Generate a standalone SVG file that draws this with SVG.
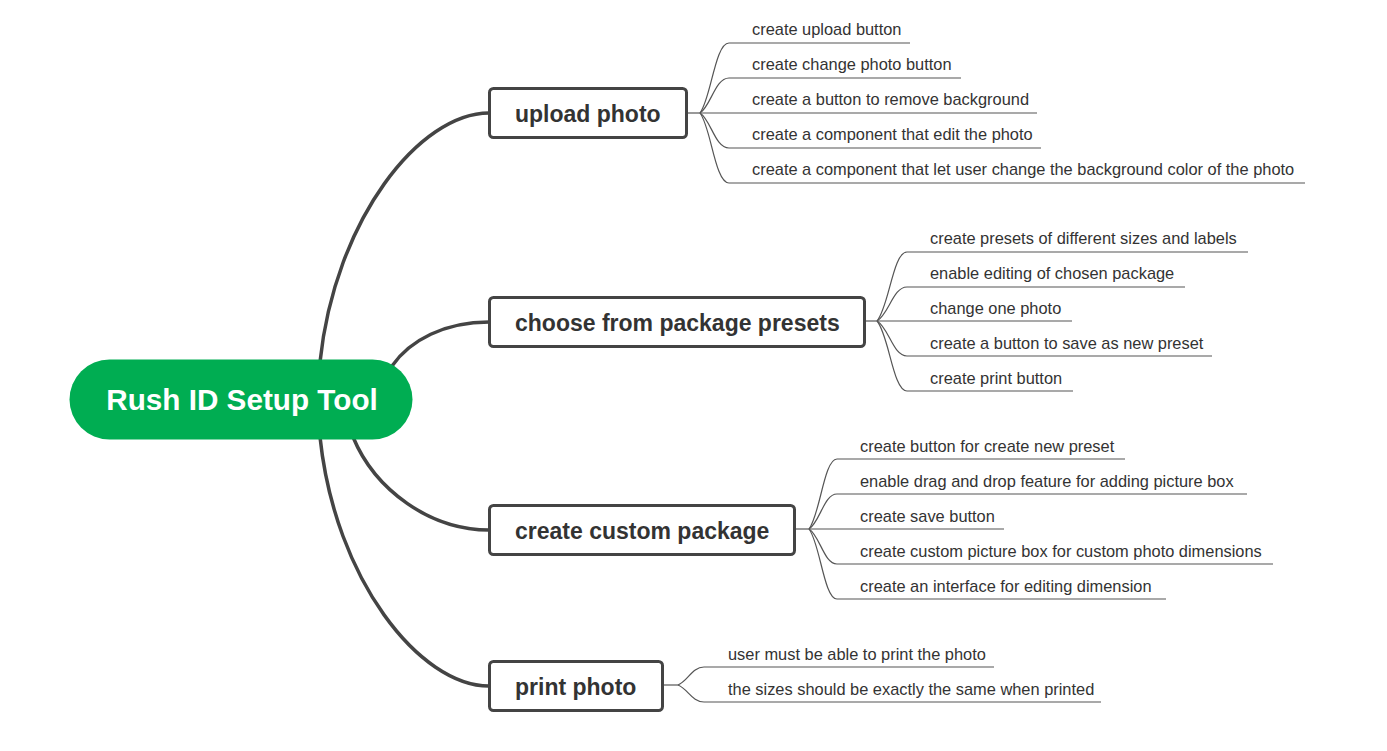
<svg xmlns="http://www.w3.org/2000/svg" width="1387" height="751" viewBox="0 0 1387 751">
<style>
.bg{fill:#ffffff}
.main{fill:none;stroke:#444444;stroke-width:3.5;stroke-linecap:round}
.leaf{fill:none;stroke:#555555;stroke-width:1.2}
.box{fill:#ffffff;stroke:#444444;stroke-width:3}
.root{fill:#00AD52}
.rt{font-family:"Liberation Sans",Arial,sans-serif;font-weight:bold;font-size:29.7px;fill:#ffffff}
.bt{font-family:"Liberation Sans",Arial,sans-serif;font-weight:bold;font-size:23px;fill:#333333}
.lt{font-family:"Liberation Sans",Arial,sans-serif;font-size:16.4px;fill:#333333}
</style>
<rect class="bg" x="0" y="0" width="1387" height="751"/>
<g id="connectors">
  <path class="main" d="M320,362 C335,219 420,113 489,113"/>
  <path class="main" d="M392,366 C410,340 445,322 489,322"/>
  <path class="main" d="M353,437 C375,490 430,530 489,530"/>
  <path class="main" d="M320,437 C335,580 420,686 489,686"/>
  <!-- upload photo leaves -->
  <path class="leaf" d="M687,113 L700,113"/>
  <path class="leaf" d="M700,113 C711,99 715,43 729,43 L910,43"/>
  <path class="leaf" d="M700,113 C711,106 715,78 729,78 L961,78"/>
  <path class="leaf" d="M700,113 L1037,113"/>
  <path class="leaf" d="M700,113 C711,120 715,148 729,148 L1041,148"/>
  <path class="leaf" d="M700,113 C711,127 715,183 729,183 L1305,183"/>
  <!-- choose leaves -->
  <path class="leaf" d="M865,321 L877,321"/>
  <path class="leaf" d="M877,321 C889,307 893,252 907,252 L1248,252"/>
  <path class="leaf" d="M877,321 C889,314 893,287 907,287 L1185,287"/>
  <path class="leaf" d="M877,321 L1072,321"/>
  <path class="leaf" d="M877,321 C889,328 893,356 907,356 L1212,356"/>
  <path class="leaf" d="M877,321 C889,335 893,391 907,391 L1073,391"/>
  <!-- custom leaves -->
  <path class="leaf" d="M795,529 L809,529"/>
  <path class="leaf" d="M809,529 C820,515 824,459 837,459 L1125,459"/>
  <path class="leaf" d="M809,529 C820,522 824,494 837,494 L1247,494"/>
  <path class="leaf" d="M809,529 L1004,529"/>
  <path class="leaf" d="M809,529 C820,536 824,564 837,564 L1273,564"/>
  <path class="leaf" d="M809,529 C820,543 824,599 837,599 L1166,599"/>
  <!-- print leaves -->
  <path class="leaf" d="M663,685 L678,685"/>
  <path class="leaf" d="M678,685 C688,681 692,667 704,667 L994,667"/>
  <path class="leaf" d="M678,685 C688,689 692,702 704,702 L1101,702"/>
</g>
<g id="root">
  <rect class="root" x="69.5" y="359.5" width="343" height="80" rx="40" ry="40"/>
  <text class="rt" x="242" y="410" text-anchor="middle">Rush ID Setup Tool</text>
</g>
<g id="n-upload">
  <rect class="box" x="489.5" y="88.5" width="197" height="49" rx="4"/>
  <text class="bt" x="515" y="121.5">upload photo</text>
</g>
<g id="n-choose">
  <rect class="box" x="489.5" y="297.5" width="375" height="49" rx="4"/>
  <text class="bt" x="515" y="330.5">choose from package presets</text>
</g>
<g id="n-custom">
  <rect class="box" x="489.5" y="505.5" width="305" height="49" rx="4"/>
  <text class="bt" x="515" y="538.5">create custom package</text>
</g>
<g id="n-print">
  <rect class="box" x="489.5" y="661.5" width="173" height="49" rx="4"/>
  <text class="bt" x="515" y="694.5">print photo</text>
</g>
<g id="leaves-upload">
  <text class="lt" x="752" y="35">create upload button</text>
  <text class="lt" x="752" y="70">create change photo button</text>
  <text class="lt" x="752" y="105">create a button to remove background</text>
  <text class="lt" x="752" y="140">create a component that edit the photo</text>
  <text class="lt" x="752" y="175">create a component that let user change the background color of the photo</text>
</g>
<g id="leaves-choose">
  <text class="lt" x="930" y="244">create presets of different sizes and labels</text>
  <text class="lt" x="930" y="279">enable editing of chosen package</text>
  <text class="lt" x="930" y="314">change one photo</text>
  <text class="lt" x="930" y="349">create a button to save as new preset</text>
  <text class="lt" x="930" y="384">create print button</text>
</g>
<g id="leaves-custom">
  <text class="lt" x="860" y="452">create button for create new preset</text>
  <text class="lt" x="860" y="487">enable drag and drop feature for adding picture box</text>
  <text class="lt" x="860" y="522">create save button</text>
  <text class="lt" x="860" y="557">create custom picture box for custom photo dimensions</text>
  <text class="lt" x="860" y="592">create an interface for editing dimension</text>
</g>
<g id="leaves-print">
  <text class="lt" x="728" y="660">user must be able to print the photo</text>
  <text class="lt" x="728" y="695">the sizes should be exactly the same when printed</text>
</g>
</svg>
